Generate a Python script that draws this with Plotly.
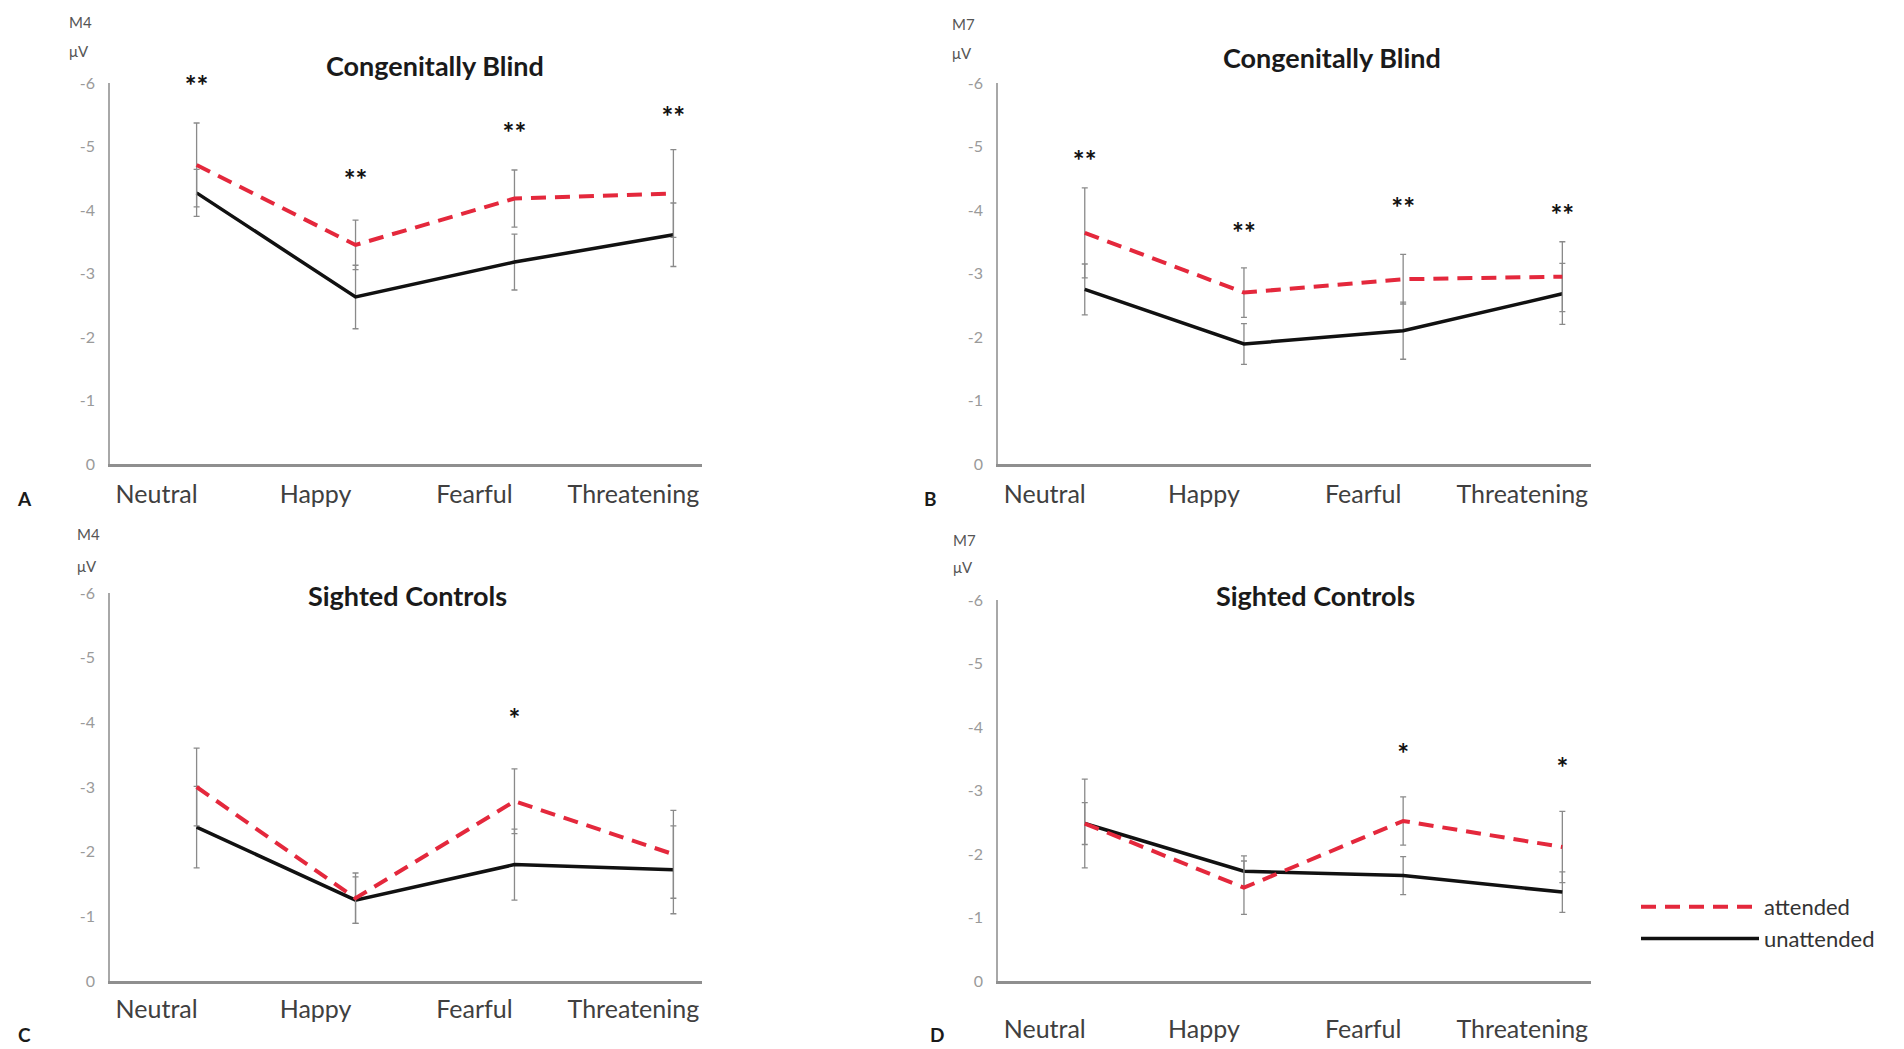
import plotly.graph_objects as go

categories = ["Neutral", "Happy", "Fearful", "Threatening"]
y_tick_vals = [0, -1, -2, -3, -4, -5, -6]
y_tick_text = ["0", "-1", "-2", "-3", "-4", "-5", "-6"]

# Panel A  (M4, Congenitally Blind)
a_att = [-4.71, -3.45, -4.18, -4.26]
a_att_err = [0.66, 0.39, 0.45, 0.69]
a_un = [-4.27, -2.63, -3.18, -3.61]
a_un_err = [0.37, 0.50, 0.44, 0.50]
a_star_y = [-5.91, -4.42, -5.16, -5.41]
a_star = ["**", "**", "**", "**"]

# Panel B  (M7, Congenitally Blind)
b_att = [-3.64, -2.70, -2.91, -2.95]
b_att_err = [0.71, 0.39, 0.39, 0.55]
b_un = [-2.75, -1.89, -2.10, -2.68]
b_un_err = [0.40, 0.32, 0.45, 0.48]
b_star_y = [-4.72, -3.59, -3.98, -3.88]
b_star = ["**", "**", "**", "**"]

# Panel C  (M4, Sighted Controls)
c_att = [-3.00, -1.28, -2.78, -1.96]
c_att_err = [0.60, 0.39, 0.50, 0.68]
c_un = [-2.38, -1.25, -1.80, -1.72]
c_un_err = [0.63, 0.36, 0.55, 0.68]
c_star_y = [None, None, -4.0, None]
c_star = ["", "", "*", ""]

# Panel D  (M7, Sighted Controls)
d_att = [-2.48, -1.47, -2.52, -2.11]
d_att_err = [0.33, 0.42, 0.38, 0.56]
d_un = [-2.48, -1.73, -1.66, -1.40]
d_un_err = [0.70, 0.24, 0.30, 0.32]
d_star_y = [None, None, -3.52, -3.31]
d_star = ["", "", "*", "*"]

panels = [
    dict(att=a_att, att_err=a_att_err, un=a_un, un_err=a_un_err, sy=a_star_y, st=a_star,
         title="Congenitally Blind", comp="M4", letter="A"),
    dict(att=b_att, att_err=b_att_err, un=b_un, un_err=b_un_err, sy=b_star_y, st=b_star,
         title="Congenitally Blind", comp="M7", letter="B"),
    dict(att=c_att, att_err=c_att_err, un=c_un, un_err=c_un_err, sy=c_star_y, st=c_star,
         title="Sighted Controls", comp="M4", letter="C"),
    dict(att=d_att, att_err=d_att_err, un=d_un, un_err=d_un_err, sy=d_star_y, st=d_star,
         title="Sighted Controls", comp="M7", letter="D"),
]

W, H = 1904, 1049
# layout geometry in pixels: (x0, x1, ytop, ybottom)
geom = [
    (110, 702, 83, 464),
    (998, 1591, 83, 464),
    (110, 702, 593, 981),
    (998, 1591, 600, 981),
]
title_pos = [(435, 66), (1332, 57), (407, 595), (1315, 595)]
comp_pos = [(67, 22, 51), (950, 24, 53), (75, 534, 566), (951, 540, 567)]
letter_pos = [(24, 498), (930, 498), (24, 1034), (937, 1034)]
label_standoff = [6, 6, 4, 24]

FONT = "Lato"
RED = "#e4283c"
ERR = "#8a8a8a"

fig = go.Figure()
annotations = []

for i, p in enumerate(panels):
    n = "" if i == 0 else str(i + 1)
    xa, ya = "x" + n, "y" + n
    show = i == 3
    fig.add_trace(go.Scatter(
        x=categories, y=p["un"], xaxis=xa, yaxis=ya, mode="lines",
        name="unattended", showlegend=show, legendrank=2,
        line=dict(color="#111111", width=3.5),
        error_y=dict(type="data", array=p["un_err"], color=ERR, thickness=1.3, width=3),
    ))
    fig.add_trace(go.Scatter(
        x=categories, y=p["att"], xaxis=xa, yaxis=ya, mode="lines",
        name="attended", showlegend=show, legendrank=1,
        line=dict(color=RED, width=4, dash="15px,9px"),
        error_y=dict(type="data", array=p["att_err"], color=ERR, thickness=1.3, width=3),
    ))
    fig.add_trace(go.Scatter(
        x=categories, y=p["sy"], xaxis=xa, yaxis=ya, mode="text",
        text=["<b>" + s + "</b>" if s else "" for s in p["st"]],
        textposition="middle center", showlegend=False, cliponaxis=False,
        textfont=dict(family=FONT, size=28, color="#111111"),
    ))

    x0, x1, yt, yb = geom[i]
    xdom = [x0 / W, x1 / W]
    ydom = [1 - yb / H, 1 - yt / H]
    fig.layout["xaxis" + n] = dict(
        domain=xdom, anchor=ya, type="category",
        categoryorder="array", categoryarray=categories,
        range=[-0.545, 3.18], showline=True, linecolor="#8f8f8f", linewidth=2.5,
        showgrid=False, zeroline=False, ticks="", automargin=False,
        tickfont=dict(family=FONT, size=25, color="#404040"),
        ticklabelshift=-40, ticklabelstandoff=label_standoff[i],
    )
    fig.layout["yaxis" + n] = dict(
        domain=ydom, anchor=xa, range=[0, -6],
        tickvals=y_tick_vals, ticktext=y_tick_text,
        showline=True, linecolor="#a8a8a8", linewidth=1.5,
        showgrid=False, zeroline=False, ticks="", automargin=False,
        tickfont=dict(family=FONT, size=16, color="#9a9a9a"),
        ticklabelstandoff=10,
    )

    tx, ty = title_pos[i]
    annotations.append(dict(
        text="<b>" + p["title"] + "</b>", x=tx / W, y=1 - ty / H, xref="paper", yref="paper",
        xanchor="center", yanchor="middle", showarrow=False,
        font=dict(family=FONT, size=27, color="#1a1a1a"),
    ))
    cx, cy1, cy2 = comp_pos[i]
    annotations.append(dict(
        text=p["comp"], x=cx / W, y=1 - cy1 / H, xref="paper", yref="paper",
        xanchor="left", yanchor="middle", showarrow=False,
        font=dict(family=FONT, size=15, color="#555555"),
    ))
    annotations.append(dict(
        text="μV", x=cx / W, y=1 - cy2 / H, xref="paper", yref="paper",
        xanchor="left", yanchor="middle", showarrow=False,
        font=dict(family=FONT, size=15, color="#555555"),
    ))
    lx, ly = letter_pos[i]
    annotations.append(dict(
        text="<b>" + p["letter"] + "</b>", x=lx / W, y=1 - ly / H, xref="paper", yref="paper",
        xanchor="center", yanchor="middle", showarrow=False,
        font=dict(family=FONT, size=19, color="#1a1a1a"),
    ))

fig.update_layout(
    width=W, height=H,
    margin=dict(l=0, r=0, t=0, b=0, pad=0, autoexpand=False),
    paper_bgcolor="white", plot_bgcolor="white",
    annotations=annotations,
    legend=dict(
        x=1636 / W, y=1 - 886 / H, xanchor="left", yanchor="top",
        font=dict(family=FONT, size=22, color="#333333"),
        bgcolor="rgba(0,0,0,0)", itemwidth=118, tracegroupgap=0,
    ),
)

fig.write_html(
    "out.html",
    config={"displayModeBar": False},
    post_script="document.body.style.margin='0';document.body.style.overflow='hidden';",
)
